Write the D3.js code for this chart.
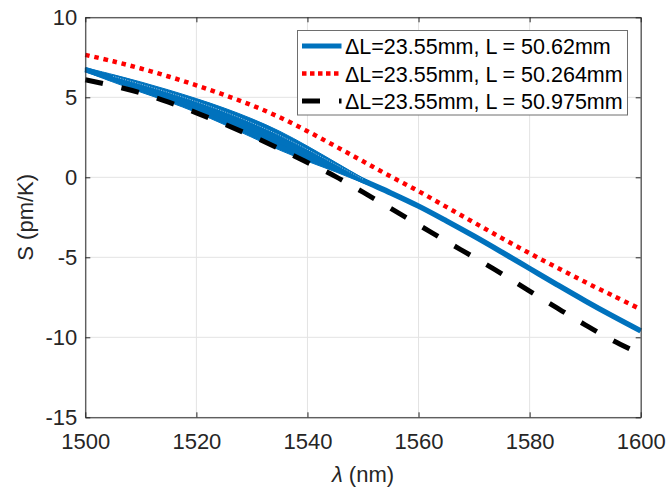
<!DOCTYPE html>
<html>
<head>
<meta charset="utf-8">
<script src="https://cdn.jsdelivr.net/npm/d3@7"></script>
<style>
  body { margin: 0; background: #fff; }
  svg { display: block; font-family: "Liberation Sans", Arial, sans-serif; }
</style>
</head>
<body>
<div id="chart"></div>
<script>
// wavelength samples (nm) and sensitivity S (pm/K)
const wavelengths = [1500, 1505, 1510, 1515, 1520, 1525, 1530, 1535, 1540, 1545, 1550,
  1555, 1560, 1565, 1570, 1575, 1580, 1585, 1590, 1595, 1600];
// blue curve is drawn as a band (top and bottom edge), it collapses to one line near 1557 nm
const blueUpper = [6.85, 6.42, 5.96, 5.46, 4.92, 4.33, 3.66, 2.88, 1.95, 0.95, -0.05,
  -0.95, -1.8, -2.72, -3.68, -4.68, -5.7, -6.72, -7.72, -8.68, -9.6];
const blueLower = [6.6, 5.95, 5.32, 4.72, 4.05, 3.3, 2.5, 1.7, 1.0, 0.35, -0.35,
  -1.0, -1.8, -2.72, -3.68, -4.68, -5.7, -6.72, -7.72, -8.68, -9.6];
const redSeries = [7.65, 7.25, 6.8, 6.3, 5.75, 5.15, 4.5, 3.75, 2.88, 1.95, 1.0,
  0.05, -0.87, -1.85, -2.83, -3.8, -4.75, -5.65, -6.55, -7.4, -8.25];
const blackSeries = [6.1, 5.72, 5.27, 4.7, 4.03, 3.33, 2.58, 1.78, 0.93, 0.06, -0.93,
  -1.95, -2.97, -4.0, -5.0, -6.03, -7.12, -8.18, -9.22, -10.2, -11.05];
const xTicks = [1500, 1520, 1540, 1560, 1580, 1600];
const yTicks = [-15, -10, -5, 0, 5, 10];
const legendLabels = ['ΔL=23.55mm, L = 50.62mm', 'ΔL=23.55mm, L = 50.264mm', 'ΔL=23.55mm, L = 50.975mm'];

class SensitivityChartD3 {
  constructor(options) {
    this.options = Object.assign({
      elementId: 'chart',
      width: 668,
      height: 490,
      left: 85.3,
      right: 640.7,
      top: 17.3,
      bottom: 417.3,
    }, options);
    this.svg = null;
    this.x = null;
    this.y = null;
  }
  // initChart()
  // builds the svg, scales, and draws everything
  initChart() {
    const o = this.options;
    this.svg = d3.select('#' + o.elementId).append('svg')
      .attr('width', o.width)
      .attr('height', o.height);
    this.x = d3.scaleLinear().domain([1500, 1600]).range([o.left, o.right]);
    this.y = d3.scaleLinear().domain([-15, 10]).range([o.bottom, o.top]);
    this.drawGrid();
    this.drawSeries();
    this.drawAxes();
    this.drawLegend();
  }
  // drawGrid()
  // light grid lines at every tick, like matlab's grid on
  drawGrid() {
    const o = this.options;
    const g = this.svg.append('g').attr('stroke', '#e3e3e3').attr('stroke-width', 1);
    g.selectAll('.gx').data(xTicks).join('line')
      .attr('x1', d => this.x(d)).attr('x2', d => this.x(d))
      .attr('y1', o.top).attr('y2', o.bottom);
    g.selectAll('.gy').data(yTicks).join('line')
      .attr('x1', o.left).attr('x2', o.right)
      .attr('y1', d => this.y(d)).attr('y2', d => this.y(d));
  }
  // drawSeries()
  // blue band, red dotted and black dashed curves
  drawSeries() {
    const rows = wavelengths.map((w, i) => ({ w, up: blueUpper[i], lo: blueLower[i], r: redSeries[i], k: blackSeries[i] }));
    const curve = d3.curveCatmullRom;
    const blue = '#0072BD';
    const plot = this.svg.append('g');
    // band between the edges, thin outline to keep edges crisp
    plot.append('path')
      .datum(rows)
      .attr('fill', blue)
      .attr('stroke', blue)
      .attr('stroke-width', 1)
      .attr('d', d3.area().x(d => this.x(d.w)).y0(d => this.y(d.lo)).y1(d => this.y(d.up)).curve(curve));
    // thick mid line - shows where the band has collapsed to one curve
    plot.append('path')
      .datum(rows)
      .attr('fill', 'none')
      .attr('stroke', blue)
      .attr('stroke-width', 5.5)
      .attr('d', d3.line().x(d => this.x(d.w)).y(d => this.y((d.up + d.lo) / 2)).curve(curve));
    // faint white seam inside the band, near its top edge (as in the original render)
    const seam = rows.filter(d => d.w >= 1505 && d.w <= 1550);
    plot.append('path')
      .datum(seam)
      .attr('fill', 'none')
      .attr('stroke', '#fff')
      .attr('stroke-opacity', 0.6)
      .attr('stroke-width', 1)
      .attr('stroke-dasharray', '1 1.5')
      .attr('d', d3.line().x(d => this.x(d.w)).y(d => this.y(d.up - 0.22 * (d.up - d.lo))).curve(curve));
    plot.append('path')
      .datum(rows)
      .attr('fill', 'none')
      .attr('stroke', '#ff0000')
      .attr('stroke-width', 4.5)
      .attr('stroke-dasharray', '4.5 4.8')
      .attr('d', d3.line().x(d => this.x(d.w)).y(d => this.y(d.r)).curve(curve));
    plot.append('path')
      .datum(rows)
      .attr('fill', 'none')
      .attr('stroke', '#000')
      .attr('stroke-width', 5)
      .attr('stroke-dasharray', '18 19')
      .attr('d', d3.line().x(d => this.x(d.w)).y(d => this.y(d.k)).curve(curve));
  }
  // drawAxes()
  // box axes with inward ticks and labels
  drawAxes() {
    const o = this.options;
    const axisColor = '#262626';
    const fmt = d => String(d);
    const styleAxis = g => {
      g.select('.domain').attr('stroke', axisColor).attr('stroke-width', 1);
      g.selectAll('.tick line').attr('stroke', axisColor);
      g.selectAll('.tick text').attr('fill', axisColor).attr('font-size', 22)
        .attr('font-family', '"Liberation Sans", Arial, sans-serif');
    };
    this.svg.append('g')
      .attr('transform', 'translate(0,' + o.bottom + ')')
      .call(d3.axisBottom(this.x).tickValues(xTicks).tickFormat(fmt).tickSizeInner(-5).tickSizeOuter(0).tickPadding(16))
      .call(styleAxis);
    this.svg.append('g')
      .attr('transform', 'translate(' + o.left + ',0)')
      .call(d3.axisLeft(this.y).tickValues(yTicks).tickFormat(fmt).tickSizeInner(-5).tickSizeOuter(0).tickPadding(8))
      .call(styleAxis);
    this.svg.append('g')
      .attr('transform', 'translate(0,' + o.top + ')')
      .call(d3.axisTop(this.x).tickValues(xTicks).tickSizeInner(-5).tickSizeOuter(0).tickFormat(''))
      .call(styleAxis);
    this.svg.append('g')
      .attr('transform', 'translate(' + o.right + ',0)')
      .call(d3.axisRight(this.y).tickValues(yTicks).tickSizeInner(-5).tickSizeOuter(0).tickFormat(''))
      .call(styleAxis);

    const xLabel = this.svg.append('text')
      .attr('x', (o.left + o.right) / 2)
      .attr('y', 482)
      .attr('text-anchor', 'middle')
      .attr('font-size', 22)
      .attr('fill', axisColor);
    xLabel.append('tspan').attr('font-style', 'italic').text('λ');
    xLabel.append('tspan').text(' (nm)');

    this.svg.append('text')
      .attr('transform', 'translate(33,' + (o.top + o.bottom) / 2 + ') rotate(-90)')
      .attr('text-anchor', 'middle')
      .attr('font-size', 22)
      .attr('fill', axisColor)
      .text('S (pm/K)');
  }
  // drawLegend()
  // boxed legend top right
  drawLegend() {
    const lg = this.svg.append('g');
    lg.append('rect')
      .attr('x', 297.5).attr('y', 30.5)
      .attr('width', 330).attr('height', 84.5)
      .attr('fill', '#fff')
      .attr('stroke', '#6e6e6e')
      .attr('stroke-width', 1);
    const styles = [
      { stroke: '#0072BD', width: 5, dash: null },
      { stroke: '#ff0000', width: 4.5, dash: '4.5 3.5' },
      { stroke: '#000', width: 5, dash: '18 19' },
    ];
    legendLabels.forEach((label, i) => {
      const yy = 46 + i * 27.5;
      lg.append('line')
        .attr('x1', 302).attr('x2', 341.5)
        .attr('y1', yy).attr('y2', yy)
        .attr('stroke', styles[i].stroke)
        .attr('stroke-width', styles[i].width)
        .attr('stroke-dasharray', styles[i].dash);
      lg.append('text')
        .attr('x', 345).attr('y', yy + 8)
        .attr('font-size', 21.5)
        .attr('fill', '#000')
        .text(label);
    });
  }
}

new SensitivityChartD3({}).initChart();
</script>
</body>
</html>
